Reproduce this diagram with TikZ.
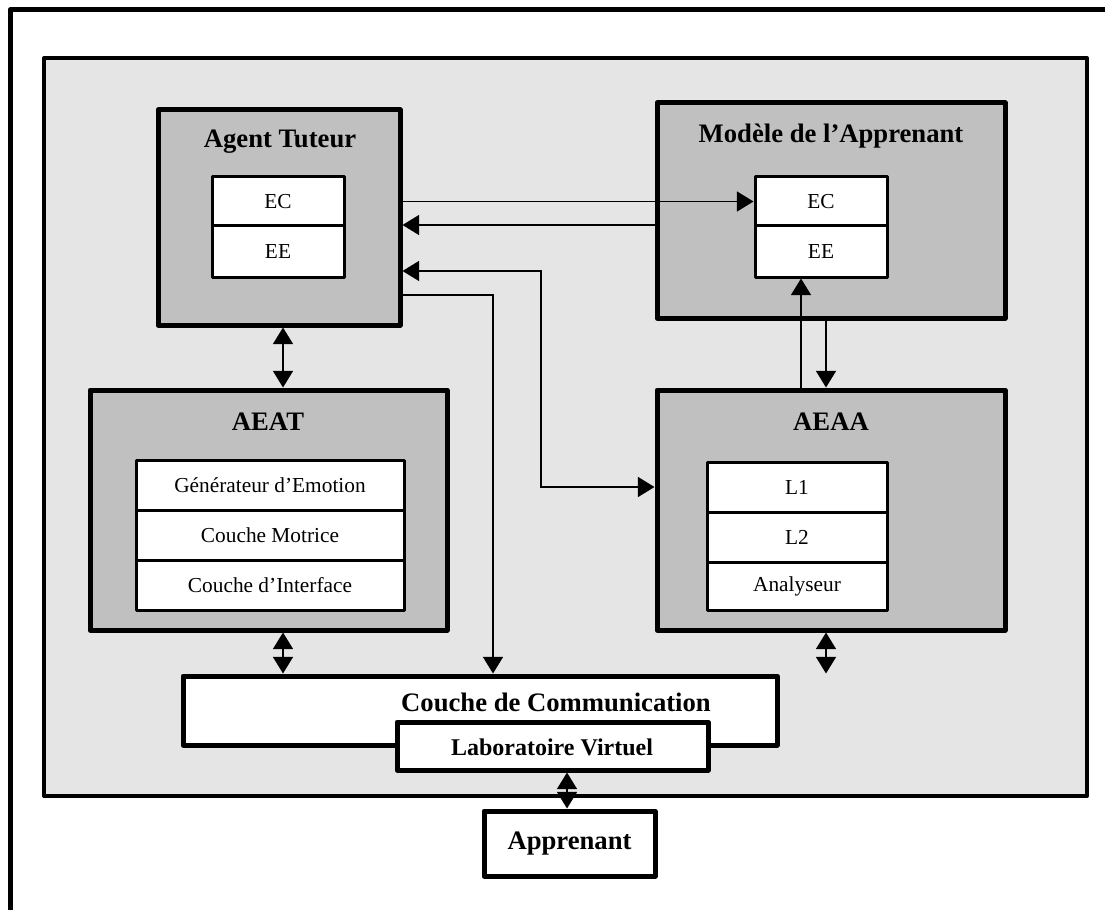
\documentclass[tikz,border=0pt]{standalone}
\usepackage{fontspec}
\setmainfont{Liberation Serif}
\usetikzlibrary{arrows.meta,fit}
\definecolor{gpanel}{gray}{0.9}
\definecolor{gbox}{gray}{0.753}
\begin{document}
\begin{tikzpicture}[x=0.75pt,y=-0.75pt,
 box/.style={draw,line width=3.75pt,fill=gbox,line join=round,inner sep=0pt},
 sub/.style={draw,line width=2.25pt,fill=white,line join=round,inner sep=0pt},
 wbox/.style={draw,line width=3.75pt,fill=white,line join=round,inner sep=0pt},
 txt/.style={font=\fontsize{16}{19}\selectfont,inner sep=0pt},
 ttl/.style={font=\bfseries\fontsize{20}{23}\selectfont,inner sep=0pt},
 arr/.style={line width=1.3pt,-{Triangle[length=12.5pt,width=15pt]}},
 darr/.style={line width=1.3pt,{Triangle[length=12.5pt,width=15pt]}-{Triangle[length=12.5pt,width=15pt]}}]
\useasboundingbox (0,0) rectangle (1105,909);
% outer frame (partly visible)
\draw[line width=3.75pt,line join=round] (10,930) -- (10,10) -- (1130,10);
% panel
\draw[line width=3pt,fill=gpanel,line join=round] (44,58) rectangle (1087,796);

% Agent Tuteur
\node[box,fit={(158,110) (400,325)}] (at) {};
\node[ttl] (att) at (280,142) {Agent Tuteur};
\node[sub,fit={(212,177) (344,226)}] (atec) {};
\node[txt] (atect) at (atec.center) {EC};
\node[sub,fit={(212,226) (344,277)}] (atee) {};
\node[txt] (ateet) at (atee.center) {EE};

% Modele
\node[box,fit={(657,103) (1005,318)}] (mo) {};
\node[ttl] (mot) at (831,136) {Modèle de l'Apprenant};
\node[sub,fit={(755,177) (887,226)}] (mec) {};
\node[txt] (mect) at (mec.center) {EC};
\node[sub,fit={(755,226) (887,277)}] (mee) {};
\node[txt] (meet) at (mee.center) {EE};

% AEAT
\node[box,fit={(90,390) (447,630)}] (aeat) {};
\node[ttl] (aeatt) at (268,422) {AEAT};
\node[sub,fit={(136,460) (404,510)}] (gen) {};
\node[txt] (gent) at (gen.center) {Générateur d'Emotion};
\node[sub,fit={(136,510) (404,560)}] (mtr) {};
\node[txt] (mtrt) at (mtr.center) {Couche Motrice};
\node[sub,fit={(136,560) (404,610)}] (itf) {};
\node[txt] (itft) at (itf.center) {Couche d'Interface};

% AEAA
\node[box,fit={(657,390) (1005,630)}] (aeaa) {};
\node[ttl] (aeaat) at (831,422) {AEAA};
\node[sub,fit={(707,462) (887,512)}] (la) {};
\node[txt] (lat) at (la.center) {L1};
\node[sub,fit={(707,512) (887,562)}] (lb) {};
\node[txt] (lbt) at (lb.center) {L2};
\node[sub,fit={(707,562) (887,610)}] (ana) {};
\node[txt] (anat) at (ana.center) {Analyseur};

% Communication
\node[wbox,fit={(183,676) (777,745)}] (comm) {};
\node[ttl] (commt) at (556,702) {Couche de Communication};
\node[wbox,fit={(397,722) (708,770)}] (labo) {};
\node[ttl,font=\bfseries\fontsize{18}{21}\selectfont] (labot) at (552,747) {Laboratoire Virtuel};

% Apprenant
\node[wbox,fit={(484,811) (655,876)}] (app) {};
\node[ttl] (appt) at (app.center) {Apprenant};

% connectors
\draw[arr] (at.east |- mec.west) -- (mec.west);
\draw[arr] (mo.west |- 0,225) -- (at.east |- 0,225);
\draw[darr] (at.east |- 0,271) -- (541,271) -- (541,487) -- (aeaa.west |- 0,487);
\draw[arr] (at.east |- 0,295) -- (493,295) -- (comm.north -| 493,0);
\draw[darr] (at.south -| 283,0) -- (aeat.north -| 283,0);
\draw[arr] (aeaa.north -| 801,0) -- (mee.south -| 801,0);
\draw[arr] (mo.south -| 826,0) -- (aeaa.north -| 826,0);
\draw[darr] (aeat.south -| 283,0) -- (comm.north -| 283,0);
\draw[darr] (aeaa.south -| 826,0) -- (comm.north -| 826,0);
\draw[darr] (labo.south -| 567,0) -- (app.north -| 567,0);
\end{tikzpicture}
\end{document}
